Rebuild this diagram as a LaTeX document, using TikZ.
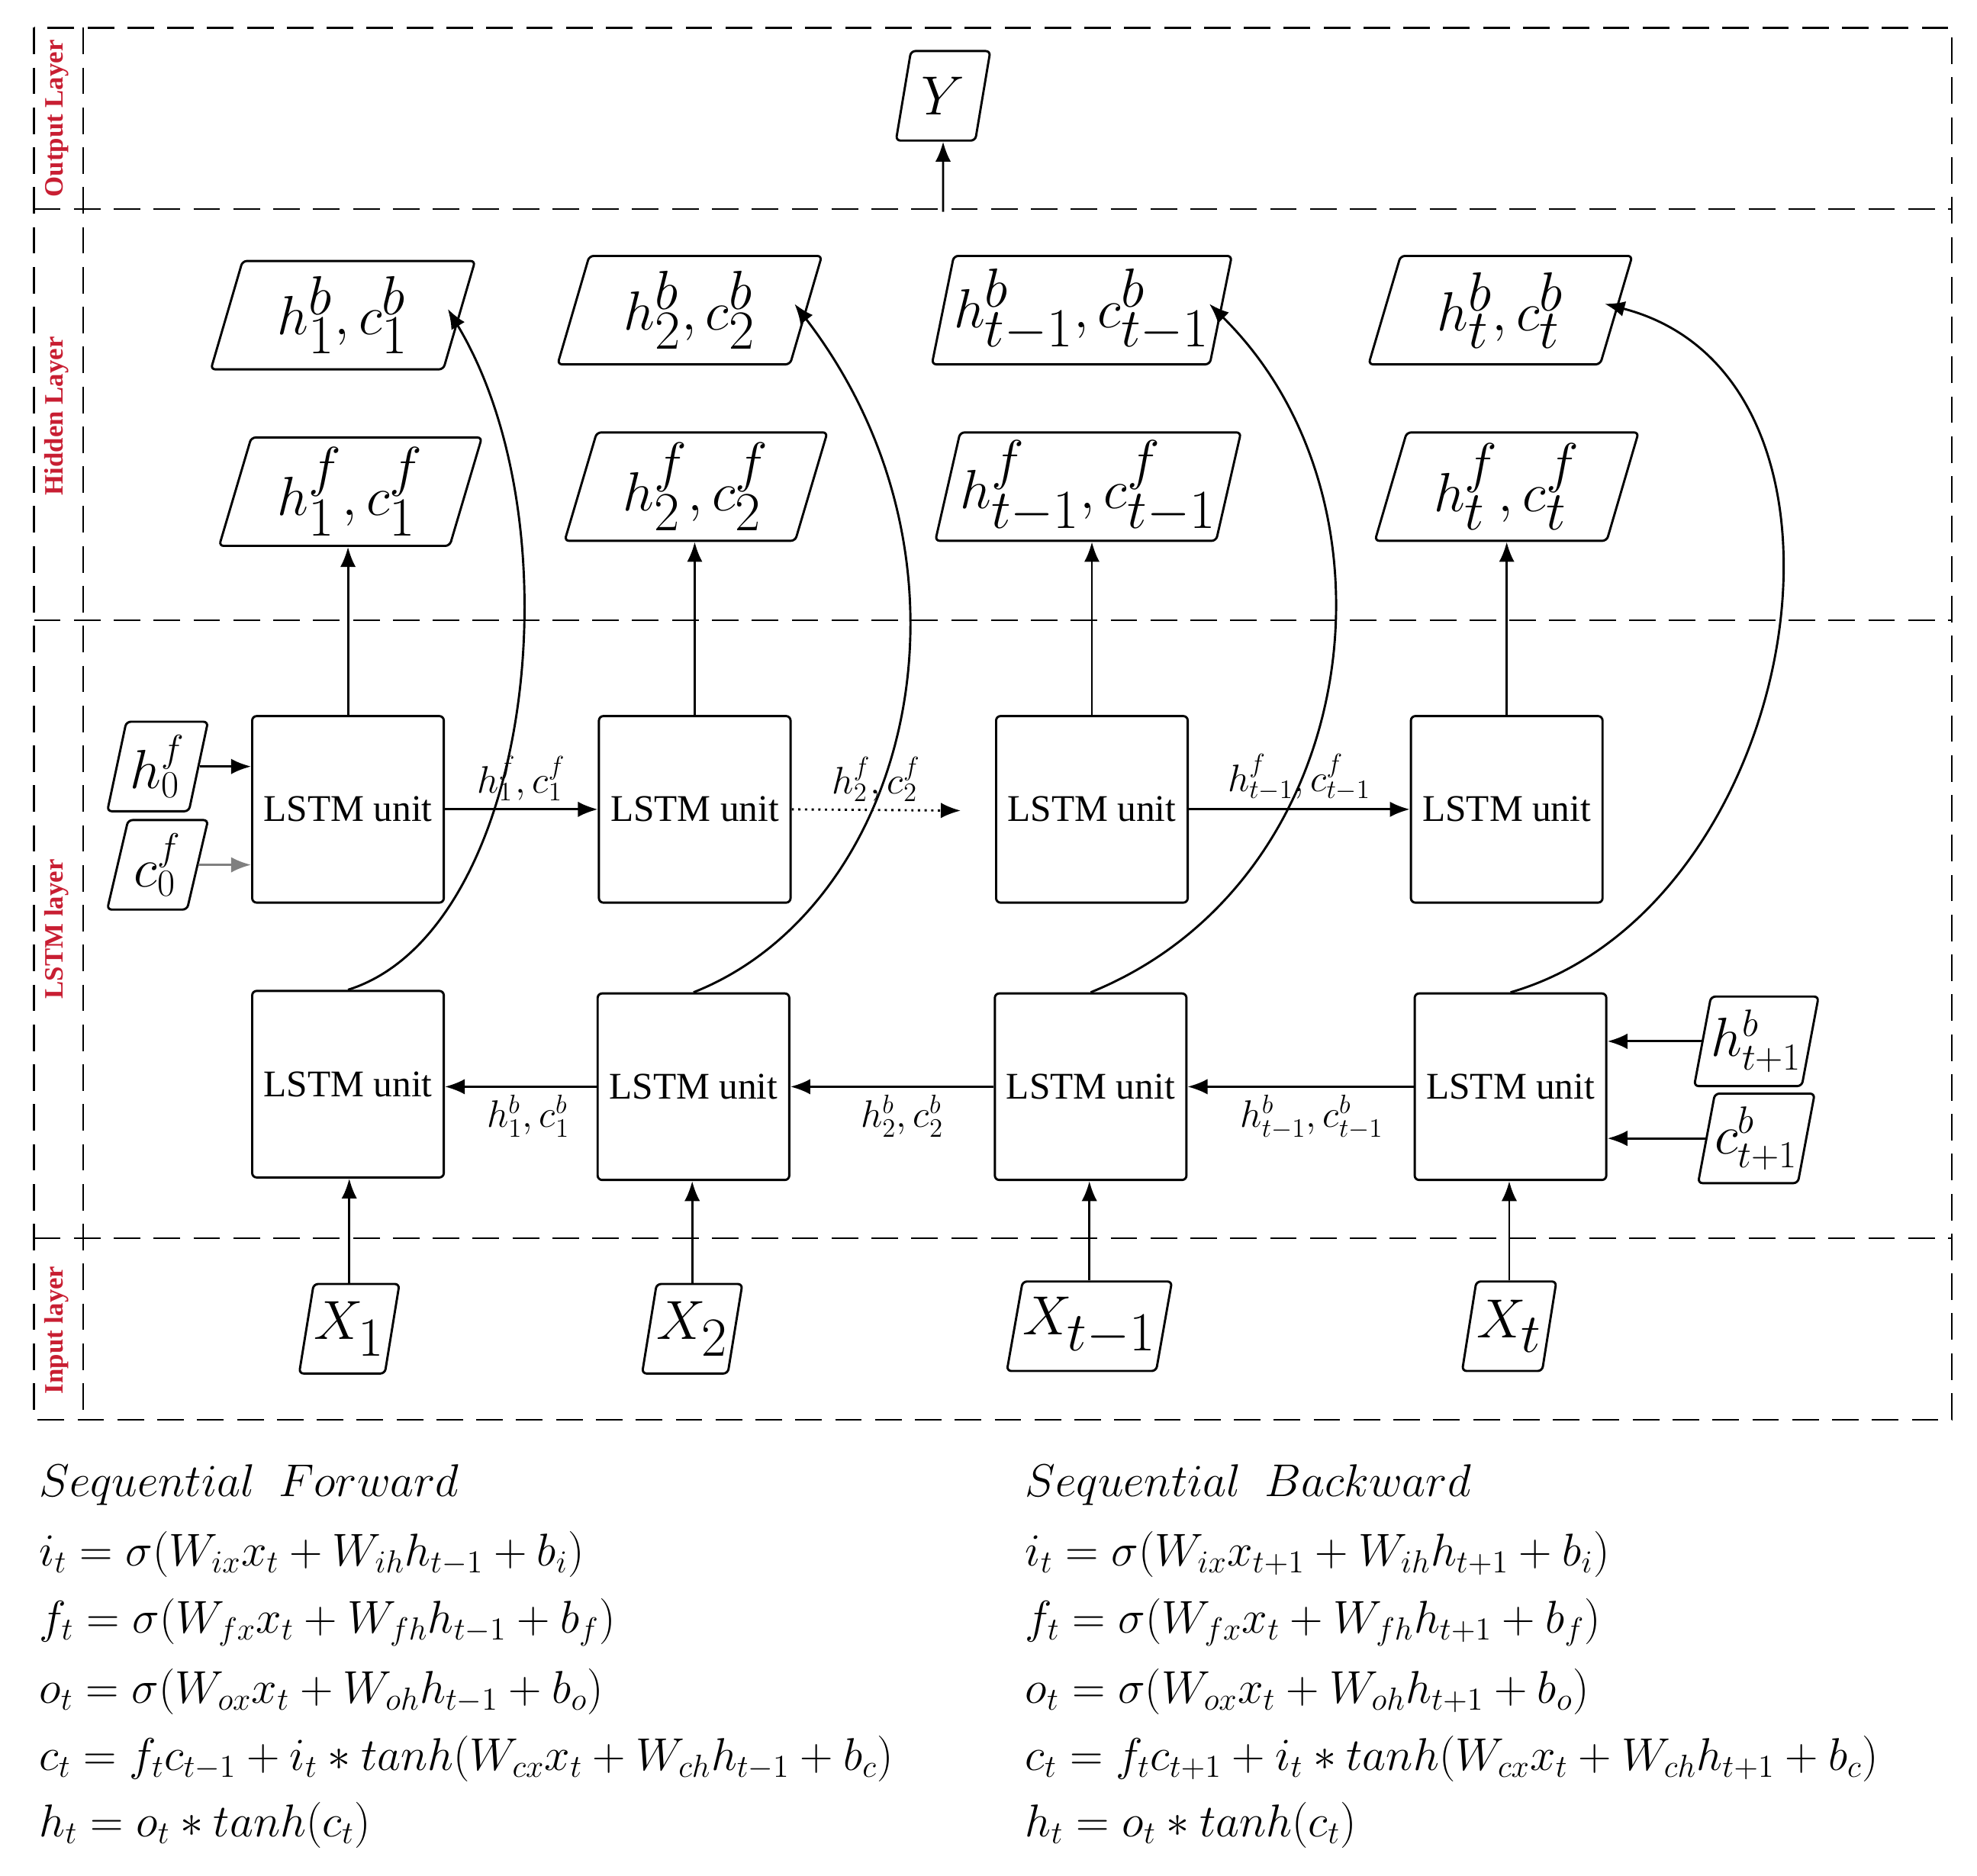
\documentclass[tikz,border=0pt]{standalone}
\usepackage{fontspec}
\setmainfont{Liberation Serif}
\usetikzlibrary{shapes.geometric,arrows.meta}
\definecolor{lred}{RGB}{200,30,50}
\begin{document}
\begin{tikzpicture}[x=0.02cm,y=-0.02cm,
 dsh/.style={dash pattern=on 12pt off 6pt, line width=0.8pt},
 unit/.style={draw,line width=1pt,rounded corners=2pt,minimum width=3.04cm,minimum height=2.96cm,font=\fontsize{17}{20}\selectfont},
 par/.style={draw,line width=1pt,trapezium,trapezium left angle=75,trapezium right angle=105,trapezium stretches=true,rounded corners=2pt,inner sep=0pt},
 big/.style={par,minimum width=4.2cm,minimum height=1.72cm,font=\fontsize{34}{38}\selectfont},
 sm/.style={par,minimum width=1.6cm,minimum height=1.42cm,font=\fontsize{26}{30}\selectfont},
 xx/.style={par,minimum width=1.5cm,minimum height=1.42cm,font=\fontsize{34}{38}\selectfont},
 ar/.style={-{Latex[length=9pt,width=7pt]},line width=1pt},
 lab/.style={font=\fontsize{17}{20}\selectfont},
 side/.style={rotate=90,text=lred,font=\fontsize{12}{14}\selectfont\bfseries},
 eq/.style={anchor=west,font=\fontsize{21.5}{26}\selectfont}]
\useasboundingbox (0,0) rectangle (1568,1488);
% frames
\draw[dsh] (27,22) rectangle (1548,1126);
\draw[dsh] (66,22) -- (66,1126);
\foreach \y in {166,492,982} \draw[dsh] (27,\y) -- (1548,\y);
\node[side] at (45,94) {Output Layer};
\node[side] at (45,330) {Hidden Layer};
\node[side] at (45,737) {LSTM layer};
\node[side] at (45,1055) {Input layer};
% output
\node[xx] (Y) at (748,76) {$Y$};
\coordinate (Ys) at (748,168);
\draw[ar] (Ys) -- (Y.south);
% hidden
\node[big] (b1) at (272,250) {$h^b_1,c^b_1$};
\node[big] (b2) at (547,246) {$h^b_2,c^b_2$};
\node[big] (b3) at (858,246) {$h^b_{t-1},c^b_{t-1}$};
\node[big] (b4) at (1190,246) {$h^b_t,c^b_t$};
\node[big] (f1) at (278,390) {$h^f_1,c^f_1$};
\node[big] (f2) at (552,386) {$h^f_2,c^f_2$};
\node[big] (f3) at (863,386) {$h^f_{t-1},c^f_{t-1}$};
\node[big] (f4) at (1195,386) {$h^f_t,c^f_t$};
% units
\node[unit] (u1) at (276,642) {LSTM unit};
\node[unit] (u2) at (551,642) {LSTM unit};
\node[unit] (u3) at (866,642) {LSTM unit};
\node[unit] (u4) at (1195,642) {LSTM unit};
\node[unit] (d1) at (276,860) {LSTM unit};
\node[unit] (d2) at (550,862) {LSTM unit};
\node[unit] (d3) at (865,862) {LSTM unit};
\node[unit] (d4) at (1198,862) {LSTM unit};
\foreach \i in {1,2,3,4} \draw[ar] (u\i.north) -- (u\i.north|-f\i.south);
% initial states
\node[sm] (h0) at (125,608) {$h^f_0$};
\node[sm] (c0) at (125,686) {$c^f_0$};
\draw[ar] (h0.east) -- (u1.west|-h0.east);
\draw[ar,gray] (c0.east) -- (u1.west|-c0.east);
\node[sm] (hb) at (1393,826) {$h^b_{t+1}$};
\node[sm] (cb) at (1393,903) {$c^b_{t+1}$};
\draw[ar] (hb.west) -- (d4.east|-hb.west);
\draw[ar] (cb.west) -- (d4.east|-cb.west);
% forward
\draw[ar] (u1.east) -- node[lab,above]{$h^f_1,c^f_1$} (u2.west);
\coordinate (dt) at (762,643);
\draw[ar,dotted] (u2.east) -- node[lab,above]{$h^f_2,c^f_2$} (dt);
\draw[ar] (u3.east) -- node[lab,above]{$h^f_{t-1},c^f_{t-1}$} (u4.west);
% backward
\draw[ar] (d2.west) -- node[lab,below,pos=0.45]{$h^b_1,c^b_1$} (d1.east|-d2.west);
\draw[ar] (d3.west) -- node[lab,below,pos=0.45]{$h^b_2,c^b_2$} (d2.east);
\draw[ar] (d4.west) -- node[lab,below,pos=0.45]{$h^b_{t-1},c^b_{t-1}$} (d3.east);
% curves
\draw[ar] (d1.north) .. controls (420,740) and (460,420) .. ([xshift=-0.2cm,yshift=0.1cm]b1.east);
\draw[ar] (d2.north) .. controls (720,720) and (790,450) .. ([xshift=-0.2cm,yshift=0.1cm]b2.east);
\draw[ar] (d3.north) .. controls (1080,700) and (1120,400) .. ([xshift=-0.2cm,yshift=0.1cm]b3.east);
\draw[ar] (d4.north) .. controls (1430,720) and (1500,300) .. ([xshift=-0.2cm,yshift=0.1cm]b4.east);
% inputs
\node[xx] (x1) at (277,1054) {$X_1$};
\node[xx] (x2) at (549,1054) {$X_2$};
\node[par,minimum width=2.3cm,minimum height=1.42cm,font=\fontsize{34}{38}\selectfont] (x3) at (864,1052) {$X_{t-1}$};
\node[xx] (x4) at (1197,1052) {$X_t$};
\foreach \i in {1,2,3,4} \draw[ar] (x\i.north) -- (x\i.north|-d\i.south);
% equations
\node[eq] (l0) at (25,1178) {$Sequential\ \ Forward$};
\node[eq] (l1) at (25,1233) {$i_t=\sigma(W_{ix}x_t+W_{ih}h_{t-1}+b_i)$};
\node[eq] (l2) at (25,1287) {$f_t=\sigma(W_{fx}x_t+W_{fh}h_{t-1}+b_f)$};
\node[eq] (l3) at (25,1342) {$o_t=\sigma(W_{ox}x_t+W_{oh}h_{t-1}+b_o)$};
\node[eq] (l4) at (25,1395) {$c_t=f_tc_{t-1}+i_t*tanh(W_{cx}x_t+W_{ch}h_{t-1}+b_c)$};
\node[eq] (l5) at (25,1448) {$h_t=o_t*tanh(c_t)$};
\node[eq] (r0) at (807,1178) {$Sequential\ \ Backward$};
\node[eq] (r1) at (807,1233) {$i_t=\sigma(W_{ix}x_{t+1}+W_{ih}h_{t+1}+b_i)$};
\node[eq] (r2) at (807,1287) {$f_t=\sigma(W_{fx}x_t+W_{fh}h_{t+1}+b_f)$};
\node[eq] (r3) at (807,1342) {$o_t=\sigma(W_{ox}x_t+W_{oh}h_{t+1}+b_o)$};
\node[eq] (r4) at (807,1395) {$c_t=f_tc_{t+1}+i_t*tanh(W_{cx}x_t+W_{ch}h_{t+1}+b_c)$};
\node[eq] (r5) at (807,1448) {$h_t=o_t*tanh(c_t)$};
\end{tikzpicture}
\end{document}
